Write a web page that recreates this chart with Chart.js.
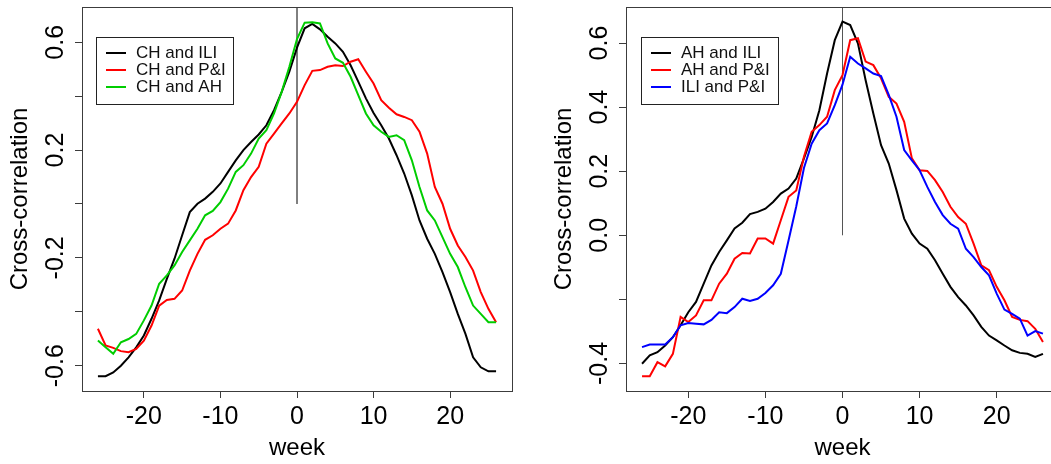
<!DOCTYPE html>
<html>
<head>
<meta charset="utf-8">
<script src="https://cdn.jsdelivr.net/npm/chart.js@4.4.1/dist/chart.umd.min.js"></script>
<style>
html, body { margin: 0; padding: 0; background: #fff; overflow: hidden; width: 1051px; height: 464px; }
#left { position: absolute; left: 0; top: 0; }
#right { position: absolute; left: 530px; top: 0; }
</style>
</head>
<body>
<canvas id="left" width="530" height="464"></canvas>
<canvas id="right" width="540" height="464"></canvas>
<script>
// lag in weeks
var weeks = [-26, -25, -24, -23, -22, -21, -20, -19, -18, -17, -16, -15, -14, -13, -12, -11, -10, -9, -8, -7, -6, -5, -4, -3, -2, -1,
  0, 1, 2, 3, 4, 5, 6, 7, 8, 9, 10, 11, 12, 13, 14, 15, 16, 17, 18, 19, 20, 21, 22, 23, 24, 25, 26];

// left panel
var chIli = [-0.639, -0.639, -0.625, -0.600, -0.569, -0.532, -0.488, -0.426, -0.358, -0.278, -0.203, -0.116, -0.030, 0.001, 0.020, 0.045, 0.076, 0.119, 0.162, 0.200, 0.230, 0.258, 0.292, 0.348, 0.416, 0.491,
  0.580, 0.652, 0.668, 0.648, 0.621, 0.596, 0.565, 0.515, 0.454, 0.392, 0.338, 0.292, 0.243, 0.181, 0.113, 0.032, -0.061, -0.129, -0.185, -0.253, -0.327, -0.408, -0.482, -0.569, -0.606, -0.621, -0.621];
var chPi = [-0.463, -0.525, -0.534, -0.546, -0.550, -0.538, -0.507, -0.451, -0.377, -0.356, -0.352, -0.321, -0.247, -0.185, -0.133, -0.116, -0.092, -0.073, -0.024, 0.051, 0.100, 0.138, 0.224, 0.261, 0.299, 0.336,
  0.379, 0.441, 0.494, 0.497, 0.509, 0.515, 0.512, 0.528, 0.537, 0.491, 0.447, 0.385, 0.357, 0.333, 0.323, 0.311, 0.268, 0.187, 0.063, 0.001, -0.092, -0.154, -0.197, -0.247, -0.327, -0.389, -0.439];
var chAh = [-0.507, -0.532, -0.556, -0.513, -0.501, -0.482, -0.432, -0.377, -0.296, -0.265, -0.228, -0.178, -0.135, -0.092, -0.042, -0.026, 0.007, 0.057, 0.119, 0.144, 0.187, 0.243, 0.274, 0.336, 0.416, 0.509,
  0.612, 0.673, 0.674, 0.670, 0.596, 0.540, 0.524, 0.472, 0.404, 0.336, 0.292, 0.268, 0.249, 0.255, 0.237, 0.162, 0.063, -0.024, -0.061, -0.123, -0.185, -0.234, -0.309, -0.377, -0.408, -0.439, -0.439];

// right panel
var ahIli = [-0.401, -0.375, -0.365, -0.344, -0.318, -0.281, -0.240, -0.208, -0.151, -0.094, -0.052, -0.016, 0.021, 0.039, 0.066, 0.073, 0.083, 0.104, 0.130, 0.146, 0.177, 0.240, 0.307, 0.390, 0.505, 0.609,
  0.667, 0.656, 0.599, 0.484, 0.380, 0.281, 0.224, 0.141, 0.052, 0.005, -0.026, -0.042, -0.078, -0.120, -0.161, -0.193, -0.219, -0.250, -0.286, -0.313, -0.328, -0.344, -0.359, -0.367, -0.370, -0.380, -0.370];
var ahPi = [-0.440, -0.440, -0.396, -0.409, -0.370, -0.255, -0.271, -0.250, -0.203, -0.203, -0.151, -0.120, -0.073, -0.055, -0.057, -0.010, -0.010, -0.026, 0.047, 0.120, 0.140, 0.245, 0.323, 0.344, 0.370, 0.453,
  0.500, 0.609, 0.615, 0.542, 0.531, 0.490, 0.432, 0.411, 0.354, 0.240, 0.203, 0.201, 0.172, 0.135, 0.089, 0.057, 0.036, -0.026, -0.094, -0.109, -0.161, -0.203, -0.255, -0.264, -0.268, -0.292, -0.333];
var iliPi = [-0.349, -0.341, -0.341, -0.341, -0.318, -0.281, -0.274, -0.276, -0.278, -0.264, -0.240, -0.243, -0.224, -0.198, -0.205, -0.198, -0.180, -0.156, -0.120, -0.016, 0.090, 0.210, 0.286, 0.328, 0.349, 0.406,
  0.470, 0.557, 0.536, 0.521, 0.505, 0.497, 0.438, 0.370, 0.266, 0.234, 0.203, 0.151, 0.104, 0.063, 0.036, 0.021, -0.042, -0.068, -0.099, -0.125, -0.182, -0.232, -0.245, -0.260, -0.313, -0.299, -0.307];

var leftNames = ['CH and ILI', 'CH and P&I', 'CH and AH'];
var rightNames = ['AH and ILI', 'AH and P&I', 'ILI and P&I'];

var xTickValues = [-20, -10, 0, 10, 20];
var leftYValues = [-0.6, -0.4, -0.2, 0, 0.2, 0.4, 0.6];
var leftYLabels = ['-0.6', '', '-0.2', '', '0.2', '', '0.6'];
var rightYValues = [-0.4, -0.2, 0, 0.2, 0.4, 0.6];
var rightYLabels = ['-0.4', '', '0.0', '0.2', '0.4', '0.6'];

var FONT = "'Liberation Sans', Arial, sans-serif";

function pts(vals) {
  return weeks.map(function (w, i) { return { x: w, y: vals[i] }; });
}

// box, rotated y labels and legend, the way R draws them
var framePlugin = {
  id: 'frame',
  afterDraw: function (chart, args, o) {
    var ctx = chart.ctx, a = chart.chartArea, ys = chart.scales.y;
    ctx.save();
    ctx.strokeStyle = '#3c3c3c';
    ctx.lineWidth = 1;
    ctx.strokeRect(Math.round(a.left) + 0.5, Math.round(a.top) + 0.5,
      Math.round(a.right - a.left), Math.round(a.bottom - a.top));

    ctx.fillStyle = '#000';
    ctx.font = '25px ' + FONT;
    ctx.textAlign = 'center';
    ctx.textBaseline = 'alphabetic';
    o.yValues.forEach(function (v, i) {
      if (!o.yLabels[i]) return;
      ctx.save();
      ctx.translate(a.left - 19, ys.getPixelForValue(v));
      ctx.rotate(-Math.PI / 2);
      ctx.fillText(o.yLabels[i], 0, 0);
      ctx.restore();
    });

    var L = o.legend;
    ctx.strokeStyle = '#222';
    ctx.lineWidth = 1;
    ctx.strokeRect(L.x + 0.5, L.y + 0.5, L.w, L.h);
    ctx.font = '17px ' + FONT;
    ctx.textAlign = 'left';
    ctx.textBaseline = 'middle';
    chart.data.datasets.filter(function (d) { return d.label; }).forEach(function (d, i) {
      var yy = L.y + 16 + i * 17;
      ctx.strokeStyle = d.borderColor;
      ctx.lineWidth = 2;
      ctx.beginPath();
      ctx.moveTo(L.x + 10, yy);
      ctx.lineTo(L.x + 30, yy);
      ctx.stroke();
      ctx.fillStyle = '#111';
      ctx.fillText(d.label, L.x + 40, yy);
    });
    ctx.restore();
  }
};

function makeChart(id, names, series, colors, cfg) {
  var datasets = series.map(function (s, i) {
    return { label: names[i], data: pts(s), borderColor: colors[i], borderWidth: 2, order: 3 - i };
  });
  datasets.push({ data: [{ x: 0, y: 0 }, { x: 0, y: cfg.ymax }], borderColor: cfg.vline, borderWidth: 1, order: 9 });

  return new Chart(document.getElementById(id), {
    type: 'line',
    data: { datasets: datasets },
    options: {
      responsive: false,
      animation: false,
      layout: { padding: { top: 7, right: cfg.right, left: 0, bottom: 0 } },
      elements: { point: { radius: 0 }, line: { tension: 0 } },
      plugins: {
        legend: { display: false },
        tooltip: { enabled: false },
        frame: { yValues: cfg.yValues, yLabels: cfg.yLabels, legend: cfg.legend }
      },
      scales: {
        x: {
          type: 'linear',
          min: -28.08,
          max: 28.08,
          afterBuildTicks: function (s) { s.ticks = xTickValues.map(function (v) { return { value: v }; }); },
          afterFit: function (s) { s.height = 73; },
          ticks: { color: '#000', font: { family: FONT, size: 25 }, padding: 4 },
          grid: { drawOnChartArea: false, tickLength: 7, tickColor: '#3c3c3c' },
          border: { display: false },
          title: { display: true, text: 'week', color: '#000', font: { family: FONT, size: 24 }, padding: { top: 0, bottom: 1 } }
        },
        y: {
          min: cfg.ymin,
          max: cfg.ymax,
          afterBuildTicks: function (s) { s.ticks = cfg.yValues.map(function (v) { return { value: v }; }); },
          afterFit: function (s) { s.width = cfg.left; },
          ticks: { display: false },
          grid: { drawOnChartArea: false, tickLength: 7, tickColor: '#3c3c3c' },
          border: { display: false },
          title: { display: true, text: 'Cross-correlation', color: '#000', font: { family: FONT, size: 24 }, padding: { top: cfg.titlePad, bottom: 0 } }
        }
      }
    },
    plugins: [framePlugin]
  });
}

makeChart('left', leftNames, [chIli, chPi, chAh], ['#000000', '#ff0000', '#00cd00'], {
  left: 82, right: 18, ymin: -0.694, ymax: 0.731, titlePad: 6,
  yValues: leftYValues, yLabels: leftYLabels, vline: '#000000',
  legend: { x: 96, y: 37, w: 137, h: 67 }
});

makeChart('right', rightNames, [ahIli, ahPi, iliPi], ['#000000', '#ff0000', '#0000ff'], {
  left: 96, right: 11, ymin: -0.486, ymax: 0.7125, titlePad: 20,
  yValues: rightYValues, yLabels: rightYLabels, vline: '#555555',
  legend: { x: 111, y: 37, w: 137, h: 67 }
});
</script>
</body>
</html>
